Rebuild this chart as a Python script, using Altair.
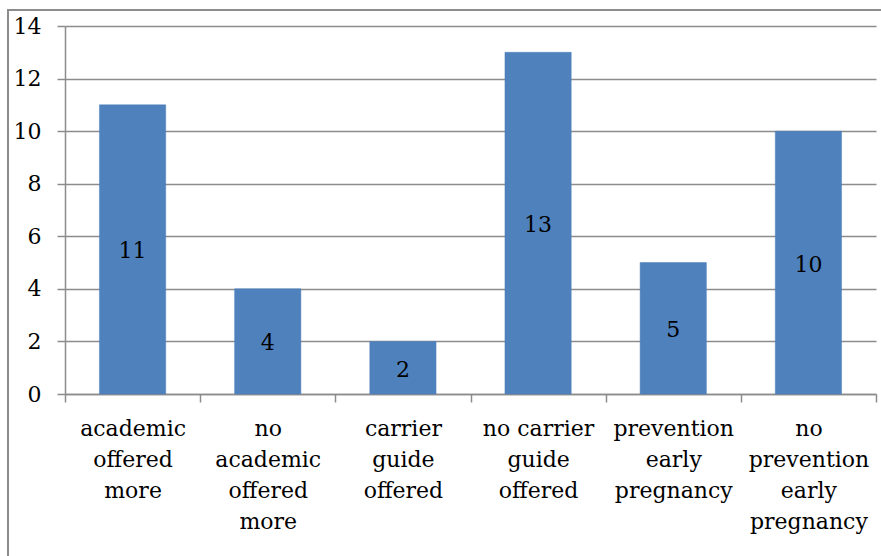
import altair as alt
import pandas as pd

categories = [
    "academic\noffered\nmore",
    "no\nacademic\noffered\nmore",
    "carrier\nguide\noffered",
    "no carrier\nguide\noffered",
    "prevention\nearly\npregnancy",
    "no\nprevention\nearly\npregnancy",
]
values = [11, 4, 2, 13, 5, 10]

df = pd.DataFrame({"cat": categories, "value": values})
df["half"] = df["value"] / 2

FONT = "DejaVu Serif"
FS = 22

x = alt.X("cat:N", sort=None, title=None,
          scale=alt.Scale(paddingInner=0, paddingOuter=0),
          axis=alt.Axis(labelExpr="split(datum.label, '\\n')", labelAngle=0,
                        labelFont=FONT, labelFontSize=FS, labelColor="#000000",
                        labelLineHeight=31, labelPadding=16, labelBaseline="top",
                        tickBand="extent", tickSize=8, tickColor="#8c8c8c", tickWidth=1.5,
                        domainColor="#8c8c8c", domainWidth=1.5, grid=False))

bars = alt.Chart(df).mark_bar(color="#4F81BD", stroke="#4A7EBB", strokeWidth=0.5,
                              width=alt.RelativeBandSize(0.49)).encode(
    x=x,
    y=alt.Y("value:Q", title=None,
            scale=alt.Scale(domain=[0, 14], nice=False),
            axis=alt.Axis(values=[0, 2, 4, 6, 8, 10, 12, 14], labelFont=FONT, labelFontSize=FS,
                          labelColor="#000000", labelPadding=16, tickSize=8,
                          tickColor="#8c8c8c", tickWidth=1.5, domainColor="#8c8c8c",
                          domainWidth=1.5, gridColor="#8c8c8c", gridWidth=1.5)),
)

labels = alt.Chart(df).mark_text(font=FONT, fontSize=FS, color="#000000", dy=2).encode(
    x=alt.X("cat:N", sort=None),
    y=alt.Y("half:Q"),
    text=alt.Text("value:Q"),
)

frame = alt.Chart(df).mark_rect(fill=None, stroke="#8c8c8c", strokeWidth=2, clip=False).encode(
    x=alt.value(-57), x2=alt.value(840), y=alt.value(-16), y2=alt.value(560)
)

chart = alt.layer(frame, bars, labels).properties(
    width=811, height=368,
    autosize=alt.AutoSizeParams(type="none"),
    padding={"left": 65, "top": 26, "right": 5, "bottom": 162},
).configure_view(stroke=None)

chart.save("out.html", embed_options={"renderer": "svg", "actions": False})
